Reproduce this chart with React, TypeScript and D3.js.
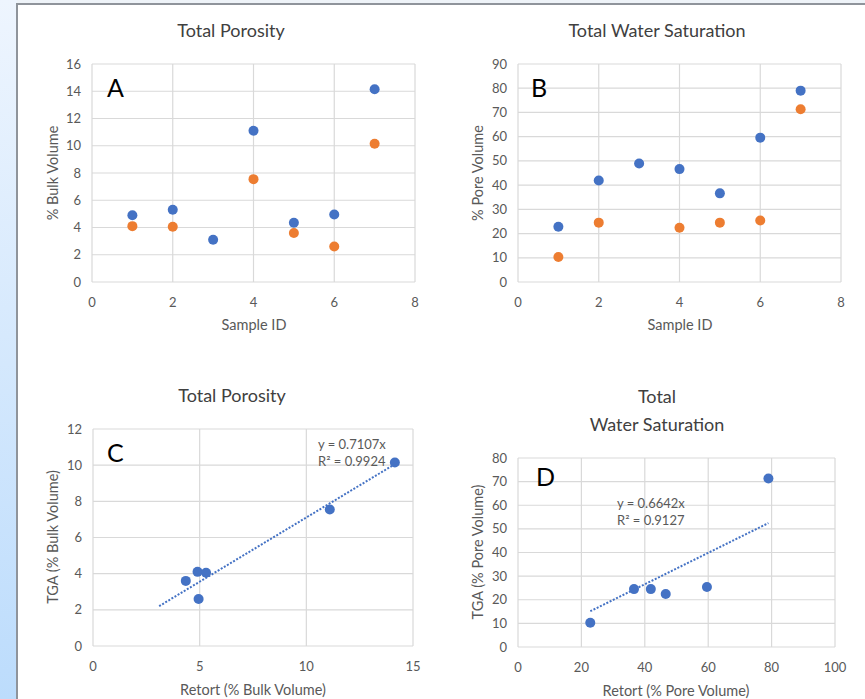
import * as d3 from "d3";

// sample numbers 1..7, retort vs TGA measurements
const sampleIds = [1, 2, 3, 4, 5, 6, 7];
const porosityRetort = [4.9, 5.3, 3.1, 11.1, 4.35, 4.95, 14.15];
const porosityTGA = [4.1, 4.05, null, 7.55, 3.6, 2.6, 10.15];
const saturationRetort = [22.8, 41.9, 48.9, 46.6, 36.6, 59.6, 79.0];
const saturationTGA = [10.3, 24.5, null, 22.4, 24.5, 25.4, 71.3];

const porosityFit = { slope: 0.7107, r2: 0.9924 };
const saturationFit = { slope: 0.6642, r2: 0.9127 };

const porosityTicks = [0, 2, 4, 6, 8, 10, 12, 14, 16];
const saturationTicks = [0, 10, 20, 30, 40, 50, 60, 70, 80, 90];
const sampleTicks = [0, 2, 4, 6, 8];
const porosityXYTicks = [0, 5, 10, 15];
const porosityTgaTicks = [0, 2, 4, 6, 8, 10, 12];
const satXTicks = [0, 20, 40, 60, 80, 100];
const satYTicks = [0, 10, 20, 30, 40, 50, 60, 70, 80];

const BLUE = "#4472C4";
const ORANGE = "#ED7D31";
const GRID = "#d9d9d9";
const TEXT = "#595959";
const FONT = "Lato, 'Open Sans', sans-serif";

type Pt = [number, number];

function pairs(xs: (number | null)[], ys: (number | null)[]): Pt[] {
  const out: Pt[] = [];
  xs.forEach((x, i) => {
    const y = ys[i];
    if (x != null && y != null) out.push([x, y]);
  });
  return out;
}

function Panel(props: any) {
  const { box, xDomain, xTicks, yDomain, yTicks, titles, letter, yTitle, xTitle, series, trend } = props;
  const x = d3.scaleLinear().domain(xDomain).range([box.left, box.right]);
  const y = d3.scaleLinear().domain(yDomain).range([box.bottom, box.top]);
  const cx = (box.left + box.right) / 2;

  let trendPath = null;
  if (trend) {
    const line = d3.line<number>().x((d) => x(d)).y((d) => y(d * trend.slope));
    trendPath = (
      <path d={line(trend.range) || ""} stroke={BLUE} strokeWidth={2} strokeDasharray="2,1.6" fill="none" />
    );
  }

  return (
    <g fontFamily={FONT}>
      {titles.map((t: any, i: number) => (
        <text key={i} x={t.x} y={t.y} textAnchor="middle" fontSize={18} fill="#404040">{t.text}</text>
      ))}
      {yTicks.map((t: number) => (
        <g key={"y" + t}>
          <line x1={box.left} x2={box.right} y1={y(t)} y2={y(t)} stroke={GRID} strokeWidth={1.2} />
          <text x={box.left - 11} y={y(t) + 4.5} textAnchor="end" fontSize={13} fill={TEXT}>{t}</text>
        </g>
      ))}
      {xTicks.map((t: number) => (
        <g key={"x" + t}>
          <line x1={x(t)} x2={x(t)} y1={box.top} y2={box.bottom} stroke={GRID} strokeWidth={1.2} />
          <text x={x(t)} y={box.bottom + 25} textAnchor="middle" fontSize={13} fill={TEXT}>{t}</text>
        </g>
      ))}
      <text x={letter.x} y={letter.y} fontSize={25} fill="#000">{letter.text}</text>
      <text transform={`translate(${yTitle.x},${yTitle.y}) rotate(-90)`} textAnchor="middle" fontSize={14.5} fill={TEXT}>{yTitle.text}</text>
      <text x={xTitle.x ?? cx} y={xTitle.y} textAnchor="middle" fontSize={14.5} fill={TEXT}>{xTitle.text}</text>
      {trendPath}
      {trend && (
        <g fontSize={13} fill={TEXT}>
          <text x={trend.labelX} y={trend.labelY}>{`y = ${trend.slope}x`}</text>
          <text x={trend.labelX} y={trend.labelY + 17}>R² = {trend.r2}</text>
        </g>
      )}
      {series.map((s: any, si: number) =>
        s.points.map((p: Pt, i: number) => (
          <circle key={si + "-" + i} cx={x(p[0])} cy={y(p[1])} r={5} fill={s.color} />
        ))
      )}
    </g>
  );
}

export default function App() {
  const porExtent = d3.extent(porosityRetort) as [number, number];
  const satExtent = d3.extent(saturationRetort) as [number, number];

  return (
    <svg width={865} height={699} style={{ position: "absolute", left: 0, top: 0 }}>
      <defs>
        <linearGradient id="side" x1="0" y1="0" x2="0" y2="1">
          <stop offset="0" stopColor="#eef5fe" />
          <stop offset="1" stopColor="#bcdcfc" />
        </linearGradient>
      </defs>
      <rect x={0} y={0} width={865} height={699} fill="#fff" />
      <rect x={0} y={0} width={17} height={699} fill="url(#side)" />
      <rect x={17} y={0} width={848} height={3} fill="#eef3f8" />
      <line x1={17} x2={865} y1={4} y2={4} stroke="#8f949b" strokeWidth={2} />
      <line x1={17} x2={17} y1={3} y2={699} stroke="#8f949b" strokeWidth={2} />

      <Panel
        box={{ left: 92, right: 415, top: 64, bottom: 282 }}
        xDomain={[0, 8]} xTicks={sampleTicks}
        yDomain={[0, 16]} yTicks={porosityTicks}
        titles={[{ text: "Total Porosity", x: 231, y: 37 }]}
        letter={{ text: "A", x: 107, y: 97 }}
        yTitle={{ text: "% Bulk Volume", x: 58, y: 173 }}
        xTitle={{ text: "Sample ID", x: 254, y: 330 }}
        series={[
          { color: BLUE, points: pairs(sampleIds, porosityRetort) },
          { color: ORANGE, points: pairs(sampleIds, porosityTGA) },
        ]}
      />
      <Panel
        box={{ left: 518, right: 841, top: 64, bottom: 282 }}
        xDomain={[0, 8]} xTicks={sampleTicks}
        yDomain={[0, 90]} yTicks={saturationTicks}
        titles={[{ text: "Total Water Saturation", x: 657, y: 37 }]}
        letter={{ text: "B", x: 531, y: 97 }}
        yTitle={{ text: "% Pore Volume", x: 483, y: 173 }}
        xTitle={{ text: "Sample ID", x: 680, y: 330 }}
        series={[
          { color: BLUE, points: pairs(sampleIds, saturationRetort) },
          { color: ORANGE, points: pairs(sampleIds, saturationTGA) },
        ]}
      />
      <Panel
        box={{ left: 93, right: 413, top: 429, bottom: 646 }}
        xDomain={[0, 15]} xTicks={porosityXYTicks}
        yDomain={[0, 12]} yTicks={porosityTgaTicks}
        titles={[{ text: "Total Porosity", x: 232, y: 402 }]}
        letter={{ text: "C", x: 107, y: 462 }}
        yTitle={{ text: "TGA (% Bulk Volume)", x: 58, y: 537 }}
        xTitle={{ text: "Retort (% Bulk Volume)", x: 253, y: 695 }}
        series={[{ color: BLUE, points: pairs(porosityRetort, porosityTGA) }]}
        trend={{ ...porosityFit, range: porExtent, labelX: 318, labelY: 449 }}
      />
      <Panel
        box={{ left: 518, right: 835, top: 458, bottom: 647 }}
        xDomain={[0, 100]} xTicks={satXTicks}
        yDomain={[0, 80]} yTicks={satYTicks}
        titles={[
          { text: "Total", x: 657, y: 403 },
          { text: "Water Saturation", x: 657, y: 431 },
        ]}
        letter={{ text: "D", x: 536, y: 486 }}
        yTitle={{ text: "TGA (% Pore Volume)", x: 483, y: 552 }}
        xTitle={{ text: "Retort (% Pore Volume)", x: 676, y: 696 }}
        series={[{ color: BLUE, points: pairs(saturationRetort, saturationTGA) }]}
        trend={{ ...saturationFit, range: satExtent, labelX: 617, labelY: 508 }}
      />
    </svg>
  );
}
